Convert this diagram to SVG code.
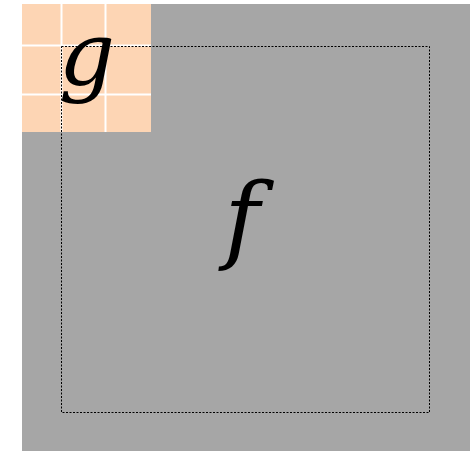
<svg xmlns="http://www.w3.org/2000/svg" width="474" height="451" viewBox="0 0 474 451">
<style>
.lbl{font-family:"DejaVu Serif","Liberation Serif",serif;font-style:italic;fill:#000;text-anchor:middle}
.grid{stroke:#fff;stroke-width:2}
</style>
<rect width="474" height="451" fill="#fff"/>
<g id="f">
<rect x="22" y="4" width="448" height="447" fill="#a6a6a6"/>
<text class="lbl" x="242" y="251" font-size="96">f</text>
</g>
<g id="g">
<rect x="22" y="4" width="129" height="128" fill="#fdd5b4"/>
<line class="grid" x1="61.5" y1="4" x2="61.5" y2="132"/>
<line class="grid" x1="105.5" y1="4" x2="105.5" y2="132"/>
<line class="grid" x1="22" y1="45.5" x2="151" y2="45.5"/>
<line class="grid" x1="22" y1="94.5" x2="151" y2="94.5"/>
<text class="lbl" x="87" y="84" font-size="88">g</text>
</g>
<g id="connectors">
<rect x="61.5" y="46.5" width="368" height="366" fill="none" stroke="#000" stroke-width="1" stroke-dasharray="2,1.5"/>
</g>
</svg>
